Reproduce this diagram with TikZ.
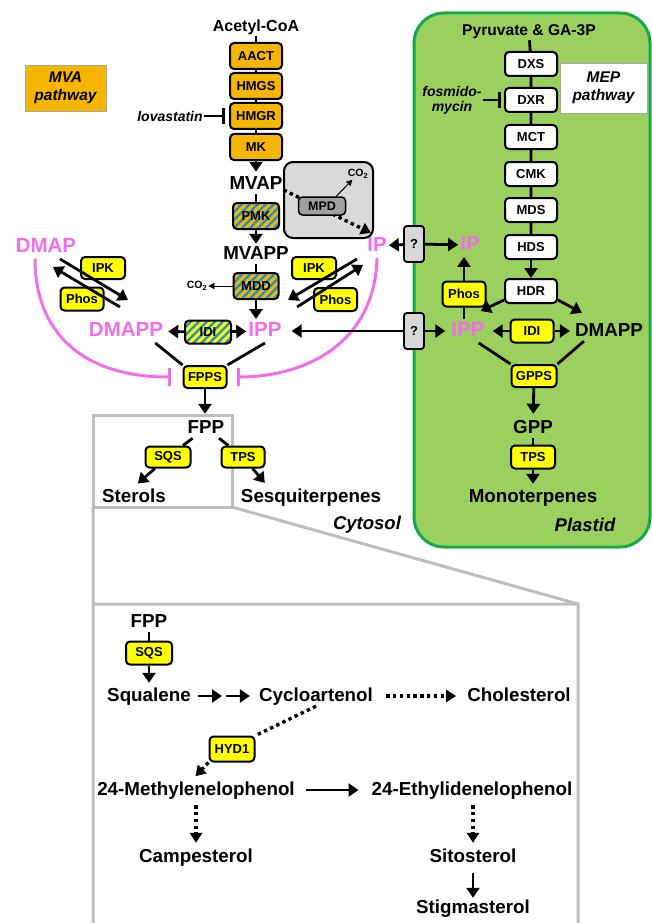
\documentclass[tikz,border=0pt]{standalone}
\usepackage{fontspec}
\setmainfont{Liberation Sans}
\usetikzlibrary{arrows.meta}
\definecolor{mvaorange}{RGB}{246,182,0}
\definecolor{enzyellow}{RGB}{255,255,0}
\definecolor{stripeblue}{RGB}{30,144,210}
\definecolor{pinkm}{RGB}{240,110,235}
\definecolor{plastidgreen}{RGB}{155,208,95}
\definecolor{plastidedge}{RGB}{20,170,75}
\definecolor{qgray}{RGB}{215,215,215}
\definecolor{mpdgray}{RGB}{217,217,217}
\definecolor{mpddark}{RGB}{160,160,160}
\definecolor{framegray}{RGB}{190,190,190}
\begin{document}
\begin{tikzpicture}[x=1pt, y=-1pt,
  lin/.style={line width=2.8pt},
  arr/.style={line width=2.8pt, -{Triangle[width=13pt,length=10pt]}},
  dotline/.style={line width=3.4pt, dash pattern=on 3.4pt off 3.4pt},
  dots/.style={dotline, -{Triangle[width=12pt,length=10pt]}},
  thinarr/.style={line width=1pt, -{Triangle[width=6pt,length=6pt]}},
  inh/.style={line width=2.8pt, -{Bar[width=16pt,line width=3.2pt]}},
  pinh/.style={pinkm, line width=3pt, -{Bar[width=18pt,line width=3pt]}},
  enz/.style={draw, line width=2pt, rounded corners=4pt, inner sep=1pt, minimum width=44pt, minimum height=22pt, font=\bfseries\fontsize{13}{14}\selectfont},
  mvaenz/.style={enz, fill=mvaorange, minimum width=52pt, minimum height=26pt},
  mepenz/.style={enz, fill=white, minimum width=52pt, minimum height=24pt},
  yenz/.style={enz, fill=enzyellow},
  stripes/.style={path picture={\foreach \s in {-32,-24,...,56}
      \draw[stripeblue, line width=2.2pt] ([xshift=\s pt]path picture bounding box.south west) -- ++(30pt,30pt);}},
  ostripe/.style={enz, fill=mvaorange, stripes},
  ystripe/.style={enz, fill=enzyellow, stripes},
  qbox/.style={draw, line width=1.8pt, rounded corners=3pt, fill=qgray, minimum width=20pt, minimum height=36pt, inner sep=0pt, font=\bfseries\fontsize{13}{14}\selectfont},
  met/.style={inner sep=1pt, text height=14pt, text depth=4pt, font=\bfseries\fontsize{18.8}{20}\selectfont},
  pmet/.style={inner sep=2pt, text height=15.5pt, text depth=4pt, text=pinkm, font=\bfseries\fontsize{20.5}{22}\selectfont},
  src/.style={inner sep=1pt, font=\bfseries\fontsize{16}{17}\selectfont},
  drug/.style={inner sep=1pt, align=center, font=\bfseries\itshape\fontsize{14}{15}\selectfont},
  place/.style={inner sep=1pt, font=\bfseries\itshape\fontsize{18.5}{20}\selectfont},
  labbox/.style={draw=gray!70, line width=0.8pt, align=center, inner sep=2pt, font=\bfseries\itshape\fontsize{15.5}{18}\selectfont},
  co/.style={inner sep=1pt, font=\bfseries\fontsize{10.5}{12}\selectfont}]
\useasboundingbox (0,0) rectangle (652,923);

\draw[fill=plastidgreen, draw=plastidedge, line width=3pt, rounded corners=30pt] (414,13) rectangle (650,547);
\draw[framegray, line width=3pt] (93,415) rectangle (232,507);
\draw[framegray, line width=3pt] (93,507) -- (93,930) (93,604) -- (578,604) (232,507) -- (578,604) -- (578,930);

% mevalonate pathway
\node[labbox, fill=mvaorange, minimum width=81pt, minimum height=46pt] (mvalab) at (65.5,88) {MVA\\pathway};
\node[src] (acoa) at (256,27) {Acetyl-CoA};
\node[mvaenz] (aact) at (256,56) {AACT};
\node[mvaenz] (hmgs) at (256,86) {HMGS};
\node[mvaenz] (hmgr) at (256,116) {HMGR};
\node[mvaenz] (mk) at (256,147) {MK};
\node[drug] (lova) at (170,116) {lovastatin};
\node[met] (mvap) at (256,184) {MVAP};
\node[ostripe, minimum width=46pt, minimum height=26pt] (pmk) at (256,216) {PMK};
\node[met] (mvapp) at (256,254) {MVAPP};
\node[ostripe, minimum width=45pt, minimum height=26pt] (mdd) at (256,286) {MDD};
\node[co] (co2b) at (197,286) {CO\textsubscript{2}};
\node[pmet] (ippc) at (265,331) {IPP};
\node[ystripe, minimum width=46pt, minimum height=23pt] (idic) at (208,332) {IDI};
\node[pmet] (dmappc) at (126,331) {DMAPP};
\node[yenz, minimum width=43pt] (fpps) at (205,377) {FPPS};
\node[met] (fppc) at (206,428) {FPP};
\node[pmet] (dmap) at (46,247) {DMAP};
\node[yenz] (ipkl) at (103,268) {IPK};
\node[yenz, minimum width=43pt, minimum height=23pt] (phosl) at (82,299) {Phos};
\node[yenz] (ipkr) at (314,268) {IPK};
\node[yenz, minimum width=43pt, minimum height=23pt] (phosr) at (335.5,299.5) {Phos};
\node[pmet] (ipc) at (377,246) {IP};

\node[draw, line width=2pt, rounded corners=9pt, fill=mpdgray, minimum width=89pt, minimum height=76pt] (mpdbox) at (328.5,200) {};
\node[co] (co2a) at (358,174) {CO\textsubscript{2}};
\draw[dots] ([yshift=-6pt]mvap.east) -- ([xshift=-3pt,yshift=6pt]mpdbox.south east);
\node[enz, fill=mpddark, line width=1.5pt, minimum width=47pt, minimum height=18pt, font=\bfseries\fontsize{12.5}{13}\selectfont] (mpd) at (322,206) {MPD};
\draw[thinarr] ([xshift=-10pt]mpd.north east) -- (co2a);

\node[yenz, minimum width=45pt, minimum height=21pt] (sqs) at (168,457) {SQS};
\node[yenz, minimum width=43pt, minimum height=21pt] (tpsc) at (243,457) {TPS};
\node[met] (sterols) at (134,497) {Sterols};
\node[met] (sesq) at (311,497) {Sesquiterpenes};
\node[place] (cytosol) at (367,525) {Cytosol};

\draw[lin] (acoa) -- (aact) -- (hmgs) -- (hmgr) -- (mk);
\draw[arr, shorten >=2pt] (mk) -- (mvap);
\draw[inh, shorten >=4pt] (lova) -- (hmgr);
\draw[lin] (mvap) -- (pmk);
\draw[arr] (pmk) -- (mvapp);
\draw[lin] (mvapp) -- (mdd);
\draw[arr] (mdd) -- (mdd |- ippc.north);
\draw[thinarr] (mdd) -- (co2b);
\draw[arr, shorten >=3pt] (idic) -- (dmappc);
\draw[arr] (idic) -- (ippc);
\draw[lin] ([xshift=-10pt]dmappc.south east) -- (fpps.north west);
\draw[lin] (ippc.south) -- (fpps.north east);
\draw[arr, shorten >=4pt] (fpps) -- (fpps |- fppc.north);
\draw[lin] (fppc) -- (sqs);
\draw[arr, shorten >=5pt] (sqs) -- (sterols.north);
\draw[lin] (fppc) -- (tpsc);
\draw[arr, shorten >=5pt] (tpsc) -- ([xshift=-43pt]sesq.north);

\coordinate (ipkl1) at (60,259);
\coordinate (ipkl2) at (128,300);
\coordinate (phosl1) at (120,307);
\coordinate (phosl2) at (53,267);
\draw[arr] (ipkl1) -- (ipkl2);
\draw[arr] (phosl1) -- (phosl2);
\coordinate (ipkr1) at (357,259);
\coordinate (ipkr2) at (288,300);
\coordinate (phosr1) at (297,307);
\coordinate (phosr2) at (363,265);
\draw[arr] (ipkr1) -- (ipkr2);
\draw[arr] (phosr1) -- (phosr2);

\draw[pinh, shorten >=12pt] ([xshift=-11pt]dmap.south) .. controls (35,330) and (80,377) .. (fpps.west);
\draw[pinh, shorten >=9pt] (ipc.south) .. controls (375,340) and (310,377) .. (fpps.east);

% exchange between compartments
\node[qbox] (q1) at (414,244) {?};
\node[qbox] (q2) at (414,331) {?};

% MEP pathway
\node[src, font=\bfseries\fontsize{15.6}{17}\selectfont] (pyr) at (529,32) {Pyruvate \& GA-3P};
\node[mepenz] (dxs) at (531,64) {DXS};
\node[mepenz] (dxr) at (531,100) {DXR};
\node[mepenz] (mct) at (531,137) {MCT};
\node[mepenz] (cmk) at (531,174) {CMK};
\node[mepenz] (mds) at (531,210) {MDS};
\node[mepenz] (hds) at (531,247) {HDS};
\node[mepenz] (hdr) at (531,291) {HDR};
\node[drug] (fosmi) at (452,100) {fosmido-\\mycin};
\node[labbox, fill=white, minimum width=87pt, minimum height=50pt] (meplab) at (603.5,88) {MEP\\pathway};
\node[pmet] (ipl) at (470,245) {IP};
\node[pmet] (ippl) at (468,331) {IPP};
\node[yenz, minimum width=43pt, minimum height=25pt] (phosp) at (464,294) {Phos};
\node[yenz, minimum width=43pt, minimum height=23pt] (idip) at (532,331) {IDI};
\node[met] (dmappl) at (609,331) {DMAPP};
\node[yenz, minimum width=45pt] (gpps) at (534,376) {GPPS};
\node[met] (gpp) at (533,428) {GPP};
\node[yenz, minimum width=44pt, minimum height=23pt] (tpsp) at (533,457) {TPS};
\node[met] (mono) at (533,497) {Monoterpenes};
\node[place] (plastid) at (585,525) {Plastid};

\draw[arr] (q1) -- (ipc);
\draw[arr] (q1) -- (ipl);
\draw[arr, shorten >=8pt] (q2) -- (ippc);
\draw[arr, shorten >=4pt] (q2) -- (ippl);

\draw[lin] (pyr) -- (dxs) -- (dxr) -- (mct) -- (cmk) -- (mds) -- (hds);
\draw[arr] (hds) -- (hdr);
\draw[inh, shorten >=3pt] (fosmi) -- (dxr);
\draw[arr] ([yshift=4pt]hdr.south west) -- ([xshift=-6pt,yshift=8pt]ippl.north east);
\draw[arr] ([yshift=4pt]hdr.south east) -- ([xshift=8pt,yshift=8pt]dmappl.north west);
\draw[lin] (ippl.north -| phosp) -- (phosp);
\draw[arr] (phosp) -- (phosp |- ipl.south);
\draw[arr, shorten >=6pt] (idip) -- (ippl);
\draw[arr, shorten >=4pt] (idip) -- (dmappl);
\draw[lin] ([xshift=-8pt]ippl.south east) -- (gpps.north west);
\draw[lin] ([xshift=10pt]dmappl.south west) -- (gpps.north east);
\draw[arr, shorten >=4pt] (gpps) -- (gpp);
\draw[lin] (gpp) -- (tpsp);
\draw[arr, shorten >=3pt] (tpsp) -- (mono);

% sterol branch
\node[met] (fppb) at (149,622) {FPP};
\node[yenz, minimum width=46pt, minimum height=23pt] (sqsb) at (149,653) {SQS};
\node[met] (squal) at (149,696) {Squalene};
\coordinate (sqmid) at (224,696);
\node[met] (cyclo) at (316,696) {Cycloartenol};
\node[met] (chol) at (519,696) {Cholesterol};
\node[yenz, minimum width=45pt, minimum height=25pt] (hyd) at (232,749) {HYD1};
\node[met] (meth) at (196,790) {24-Methylenelophenol};
\node[met] (ethy) at (472,790) {24-Ethylidenelophenol};
\node[met] (camp) at (196,857) {Campesterol};
\node[met] (sito) at (473,857) {Sitosterol};
\node[met] (stig) at (473,908) {Stigmasterol};

\draw[lin] (fppb) -- (sqsb);
\draw[arr, shorten >=3pt] (sqsb) -- (squal);
\draw[arr, shorten <=6pt, shorten >=2pt] (squal) -- (sqmid);
\draw[arr, shorten <=2pt, shorten >=8pt] (sqmid) -- (cyclo);
\draw[dots, shorten <=12pt, shorten >=10pt] (cyclo) -- (chol);
\draw[dotline] (cyclo.south) -- (hyd.north east);
\draw[dots, shorten >=5pt] (hyd.south west) -- ([xshift=-4pt]meth.north);
\draw[arr, shorten <=10pt, shorten >=12pt] (meth) -- (ethy);
\draw[dots, shorten <=5pt, shorten >=4pt] (meth) -- (camp);
\draw[dots, shorten <=5pt, shorten >=4pt] (ethy.south -| sito) -- (sito);
\draw[arr, shorten <=6pt] (sito) -- (stig);
\end{tikzpicture}
\end{document}
